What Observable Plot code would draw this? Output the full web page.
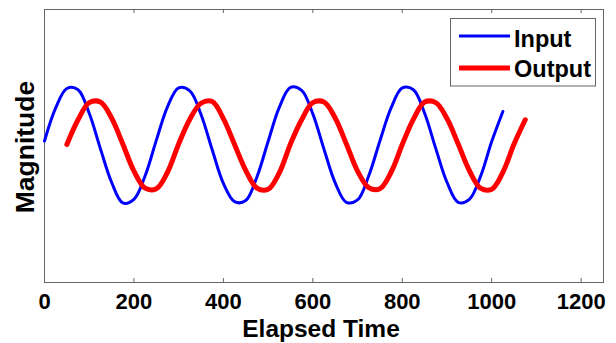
<!DOCTYPE html>
<html><head><meta charset="utf-8">
<script src="https://cdn.jsdelivr.net/npm/d3@7"></script>
<script src="https://cdn.jsdelivr.net/npm/@observablehq/plot@0.6"></script>
<style>body{margin:0;background:#fff} #chart{width:616px;height:343px}</style>
</head><body><div id="chart"></div>
<script>
// Values
const inputTime = [0,25,50,75,100,125,150,175,200,225,250,275,300,325,350,375,400,425,450,475,500,525,550,575,600,625,650,675,700,725,750,775,800,825,850,875,900,925,950,975,1000,1025];
const inputValue = [0.07,0.63,0.96,0.94,0.54,-0.06,-0.63,-0.98,-0.92,-0.52,0.08,0.65,0.97,0.92,0.52,-0.08,-0.65,-0.96,-0.94,-0.54,0.06,0.64,0.98,0.93,0.53,-0.07,-0.64,-0.97,-0.93,-0.52,0.07,0.63,0.97,0.94,0.54,-0.06,-0.63,-0.97,-0.92,-0.53,0.06,0.57];
const outputTime = [50,75,100,125,150,175,200,225,250,275,300,325,350,375,400,425,450,475,500,525,550,575,600,625,650,675,700,725,750,775,800,825,850,875,900,925,950,975,1000,1025,1050,1075];
const outputValue = [0.01,0.43,0.72,0.73,0.46,0.02,-0.44,-0.73,-0.74,-0.46,0.02,0.44,0.71,0.74,0.45,0.01,-0.43,-0.73,-0.75,-0.47,0.02,0.43,0.72,0.73,0.46,0.02,-0.44,-0.72,-0.74,-0.46,0.01,0.44,0.73,0.72,0.45,0.02,-0.43,-0.73,-0.75,-0.46,0.02,0.43];
const xTicks = [0,200,400,600,800,1000,1200];
const seriesNames = ["Input","Output"];
const seriesColors = ["#0000ff","#ff0000"];
const xLabel = "Elapsed Time";
const yLabel = "Magnitude";

const inputData = inputTime.map((t,i)=>({t, v: inputValue[i]}));
const outputData = outputTime.map((t,i)=>({t, v: outputValue[i]}));

const W=616,H=343, mL=44, mR=13, mT=9, mB=61;
const innerH = H-mT-mB;
const font = "'Liberation Sans', Arial, Helvetica, sans-serif";

const svg = Plot.plot({
  width:W, height:H, marginLeft:mL, marginRight:mR, marginTop:mT, marginBottom:mB,
  x:{domain:[0,1250]},
  y:{domain:[-2.33,2.3], axis:null},
  style:{fontFamily:font, background:"white", color:"black"},
  marks:[
    Plot.frame({stroke:"#666", strokeWidth:1}),
    Plot.tickX(xTicks, {x:d=>d, insetTop: innerH-4, stroke:"#666"}),
    Plot.tickX(xTicks, {x:d=>d, insetBottom: innerH-4, stroke:"#666"}),
    Plot.axisX({ticks:xTicks, tickSize:0, tickPadding:11, fontSize:22, fontWeight:"bold", label:null, tickFormat:d=>String(d)}),
    Plot.line(inputData, {x:"t", y:"v", stroke:seriesColors[0], strokeWidth:3, curve:"catmull-rom"}),
    Plot.line(outputData, {x:"t", y:"v", stroke:seriesColors[1], strokeWidth:5, curve:"catmull-rom"}),
    Plot.text([xLabel], {text:d=>d, frameAnchor:"bottom", textAnchor:"middle", dx:-3, dy:54, fontSize:24.5, fontWeight:"bold"}),
    Plot.text([yLabel], {text:d=>d, frameAnchor:"left", textAnchor:"middle", lineAnchor:"middle", dx:-19, dy:1, rotate:-90, fontSize:26.5, fontWeight:"bold"})
  ]
});

// Legend
const g = d3.select(svg).append("g").attr("text-anchor","start");
g.append("rect").attr("x",450.5).attr("y",18.5).attr("width",145).attr("height",67.5)
  .attr("fill","white").attr("stroke","#666").attr("stroke-width",1);
const legY = [36, 68];
const legW = [3, 5];
const legBase = [46.7, 77.3];
seriesNames.forEach((name,i)=>{
  g.append("line").attr("x1",459).attr("x2",510).attr("y1",legY[i]).attr("y2",legY[i])
    .attr("stroke",seriesColors[i]).attr("stroke-width",legW[i]);
  g.append("text").attr("x",514).attr("y",legBase[i]).attr("font-size",23.5)
    .attr("text-anchor","start").attr("font-weight","bold").attr("font-family",font).attr("fill","black").text(name);
});

document.getElementById("chart").appendChild(svg);
</script>
</body></html>
